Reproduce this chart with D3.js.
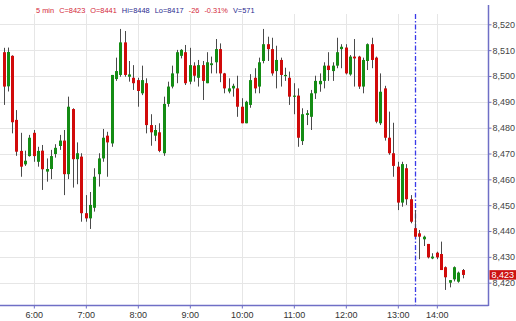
<!DOCTYPE html>
<html><head><meta charset="utf-8">
<script src="https://cdn.jsdelivr.net/npm/d3@7/dist/d3.min.js"></script>
<style>body{margin:0;background:#fff}svg{display:block;font-family:"Liberation Sans",Arial,sans-serif}</style>
</head><body><svg id="c" width="516" height="321"></svg>
<script>
const opens = [8509.2,8496,8507.8,8483.0,8471.0,8465.8,8469.0,8478.0,8466.8,8471.1,8463.0,8464,8469.8,8472.9,8475.0,8462.0,8487.2,8467.8,8468.8,8446.9,8444.9,8449.0,8462.0,8468.1,8476.9,8473.9,8498.8,8500.4,8513.0,8499.7,8499.3,8498.4,8493.3,8497.2,8481.0,8476.9,8478.2,8470.1,8489.2,8495.9,8501.0,8507.8,8509.2,8497.8,8504.0,8499.3,8504.2,8497.2,8504.2,8505.3,8510.4,8501.0,8494.0,8495.2,8495.2,8488.1,8481.7,8488.8,8499.3,8495.9,8505.8,8512.3,8510.4,8501.9,8506.2,8500.0,8499.3,8492.0,8492.4,8474.8,8484.9,8484.2,8493.3,8496.8,8498.1,8504.0,8501.9,8504.0,8510.4,8511.0,8500.6,8507.5,8507.5,8495.9,8505.8,8512.3,8507.1,8481.7,8495.2,8476.1,8470.1,8464.9,8451.0,8464.3,8452.3,8441.1,8439.1,8436.8,8435.0,8429.4,8431.6,8431.1,8426.0,8420.0,8421.3,8420.4,8424.9];
const highs = [8510.9,8511,8508,8486.8,8478.0,8471.1,8477.2,8479.1,8472.6,8473.3,8468.1,8471.4,8473.6,8477.2,8479.1,8492.0,8487.5,8474.3,8470.1,8453.9,8455.1,8464.3,8470.1,8479.5,8478.4,8500.4,8507.1,8518.2,8517.4,8505.8,8504.2,8499.3,8504.0,8499.1,8485.2,8481.0,8481.7,8492.0,8497.8,8504.0,8510.1,8510.4,8512.0,8510.9,8505.3,8506.2,8505.8,8509.2,8507.5,8514.3,8512.6,8501.2,8499.1,8497.0,8500.1,8491.4,8490.4,8500.7,8503.0,8507.1,8518.2,8515.2,8514.8,8511.7,8507.1,8503.2,8501.7,8497.2,8495.2,8487.5,8486.8,8494.6,8500.1,8501.0,8505.3,8509.2,8505.3,8514.8,8512.3,8512.3,8508.1,8514.3,8507.8,8507.1,8512.6,8514.8,8507.5,8501.0,8496.2,8486.2,8481.9,8466.8,8466.8,8465.9,8453.9,8448.1,8440.4,8438.2,8435.0,8431.4,8432.0,8435.9,8426.3,8421.0,8426.3,8424.3,8425.3];
const lows = [8488.8,8494,8477.8,8469.1,8461.0,8465.2,8468.8,8466.8,8464.9,8455.9,8459.1,8460.1,8468.4,8471.4,8453.9,8460.1,8456.8,8458.1,8443.6,8443.6,8440.8,8447.5,8457.2,8466.8,8461.0,8472.6,8498.1,8499.7,8499.7,8497.8,8494.6,8488.1,8492.6,8477.8,8473.0,8474.8,8470.5,8469.1,8488.1,8495.2,8497.2,8506.8,8496.5,8496.8,8497.8,8495.9,8490.7,8497.2,8501.0,8501.0,8497.6,8493.3,8493.3,8492.0,8484.2,8481.7,8481.7,8487.7,8493.3,8493.3,8504.9,8505.8,8500.1,8495.2,8495.9,8498.1,8488.8,8485.2,8472.6,8473.3,8481.0,8479.1,8491.1,8493.9,8495.2,8498.1,8498.1,8503.0,8503.0,8500.6,8500.1,8495.9,8495.0,8493.3,8502.3,8503.0,8481.7,8481.0,8475.0,8469.5,8461.0,8448.1,8449.4,8450.1,8443.0,8437.8,8429.1,8434.2,8429.4,8429.1,8429.1,8424.9,8417.2,8418.2,8420.5,8420.0,8421.7];
const closes = [8495.9,8509.3,8482.1,8470.7,8464.9,8467.2,8476.1,8469.0,8471.0,8463.9,8464.0,8469.0,8472.2,8475.0,8462.0,8488.1,8467.8,8470.1,8446.9,8444.9,8450.1,8461.0,8468.1,8476.1,8474.3,8500.4,8501.9,8513.0,8500.4,8500.6,8497.2,8494.2,8498.4,8481.0,8478.2,8479.1,8471.0,8489.2,8495.9,8501.0,8509.2,8510.1,8497.2,8504.2,8500.1,8504.2,8498.1,8505.3,8504.9,8510.4,8501.0,8495.2,8495.2,8496.2,8488.1,8481.7,8490.0,8498.4,8495.2,8505.3,8512.3,8510.4,8501.0,8506.2,8500.4,8500.4,8492.0,8492.4,8476.1,8485.2,8485.6,8493.3,8498.1,8498.1,8504.0,8502.3,8504.0,8509.2,8511.3,8501.0,8507.5,8506.8,8495.9,8506.2,8512.3,8506.2,8482.3,8493.9,8476.1,8470.1,8465.2,8451.0,8465.9,8452.3,8443.6,8437.8,8437.8,8437.8,8429.8,8430.1,8429.8,8424.9,8422.1,8421.0,8426.0,8423.9,8423.0];
const timeLabels = ["6:00","7:00","8:00","9:00","10:00","11:00","12:00","13:00","14:00"];
const timeIndex = [7,19,31,43,55,67,79,91,100];
const priceTicks = [8420,8430,8440,8450,8460,8470,8480,8490,8500,8510,8520];
const sessionBreak = 95;
const lastPrice = 8423;
const headerTexts = ["5 min","C=8423","O=8441","Hi=8448","Lo=8417","-26","-0.31%","V=571"];
const headerColors = ["#d42a3a","#d42a3a","#d42a3a","#2b2b8f","#2b2b8f","#d42a3a","#d42a3a","#2b2b8f"];

const svg = d3.select("#c");
const axisX = 488.5, axisY = 305.5, plotTop = 14;
const x = d3.scaleLinear().domain([0,106]).range([3.5, 3.5+106*4.3333]);
const y = d3.scaleLinear().domain([8420,8520]).range([282.7,24.3]);
const axisColor = "#6f6fc6";

// gridlines
svg.append("g").selectAll("line").data(priceTicks).join("line")
  .attr("x1",0).attr("x2",axisX).attr("y1",d=>Math.round(y(d))+0.5).attr("y2",d=>Math.round(y(d))+0.5)
  .attr("stroke","#e6e6e6");
svg.append("g").selectAll("line").data(timeIndex).join("line")
  .attr("x1",d=>Math.round(x(d))+0.5).attr("x2",d=>Math.round(x(d))+0.5).attr("y1",plotTop).attr("y2",axisY)
  .attr("stroke","#e6e6e6");

// session break line
svg.append("line").attr("x1",Math.round(x(sessionBreak))+0.5).attr("x2",Math.round(x(sessionBreak))+0.5)
  .attr("y1",plotTop).attr("y2",axisY).attr("stroke","#3a3ae8").attr("stroke-width",1.3).attr("stroke-dasharray","5,2,1.5,2");

// candles
const idx = d3.range(opens.length);
svg.append("g").selectAll("line").data(idx).join("line")
  .attr("x1",i=>Math.round(x(i))+0.5).attr("x2",i=>Math.round(x(i))+0.5)
  .attr("y1",i=>y(highs[i])).attr("y2",i=>y(lows[i]))
  .attr("stroke","#4a4a4a").attr("stroke-width",1);
svg.append("g").selectAll("rect").data(idx).join("rect")
  .attr("x",i=>Math.round(x(i))-1).attr("width",3)
  .attr("y",i=>y(Math.max(opens[i],closes[i])))
  .attr("height",i=>Math.max(1.2, Math.abs(y(opens[i])-y(closes[i]))))
  .attr("fill",i=>closes[i]>=opens[i]?"#148c14":"#d10a0a");

// axes
const yAxis = d3.axisRight(y).tickValues(priceTicks).tickFormat(d3.format(",")).tickSize(3).tickPadding(1);
const gy = svg.append("g").attr("transform",`translate(${axisX},0)`).call(yAxis);
gy.select(".domain").remove();
gy.selectAll("line").attr("stroke",axisColor);
gy.selectAll("text").attr("fill","#444").attr("font-size","9px").attr("font-family","Liberation Sans, Arial, sans-serif");
svg.append("line").attr("x1",axisX).attr("x2",axisX).attr("y1",5).attr("y2",axisY+0.5).attr("stroke",axisColor).attr("stroke-width",1.5);

const xAxis = d3.axisBottom(x).tickValues(timeIndex).tickFormat((d,i)=>timeLabels[i]).tickSize(3).tickPadding(3);
const gx = svg.append("g").attr("transform",`translate(0,${axisY})`).call(xAxis);
gx.select(".domain").remove();
gx.selectAll("line").attr("stroke",axisColor);
gx.selectAll("text").attr("fill","#333").attr("font-size","9px").attr("font-family","Liberation Sans, Arial, sans-serif");
svg.append("line").attr("x1",0).attr("x2",axisX).attr("y1",axisY).attr("y2",axisY).attr("stroke",axisColor).attr("stroke-width",1.5);

// last price label (drawn over the 8,420 tick label, as in the reference)
const ly = y(lastPrice);
svg.append("rect").attr("x",489.5).attr("y",ly-4.8).attr("width",27).attr("height",9.5).attr("fill","#cc1111");
svg.append("text").attr("x",491.5).attr("y",ly+3.3).attr("fill","#fff").attr("font-size","9px").text(d3.format(",")(lastPrice));

// header: sequential layout, gap 5px, sized to span x 36..255
const hStart = 36, hEnd = 255, hGap = 5;
const hg = svg.append("g");
const hts = hg.selectAll("text").data(headerTexts).join("text")
  .attr("y",13).attr("font-size","9px").attr("fill",(d,i)=>headerColors[i]).text(d=>d);
let w9 = 0; hts.each(function(){ w9 += this.getComputedTextLength(); });
const fs = Math.min(9.5, 9 * (hEnd - hStart - hGap*(headerTexts.length-1)) / w9);
hts.attr("font-size", fs + "px");
let cx = hStart;
hts.each(function(){ d3.select(this).attr("x", cx); cx += this.getComputedTextLength() + hGap; });
</script></body></html>
